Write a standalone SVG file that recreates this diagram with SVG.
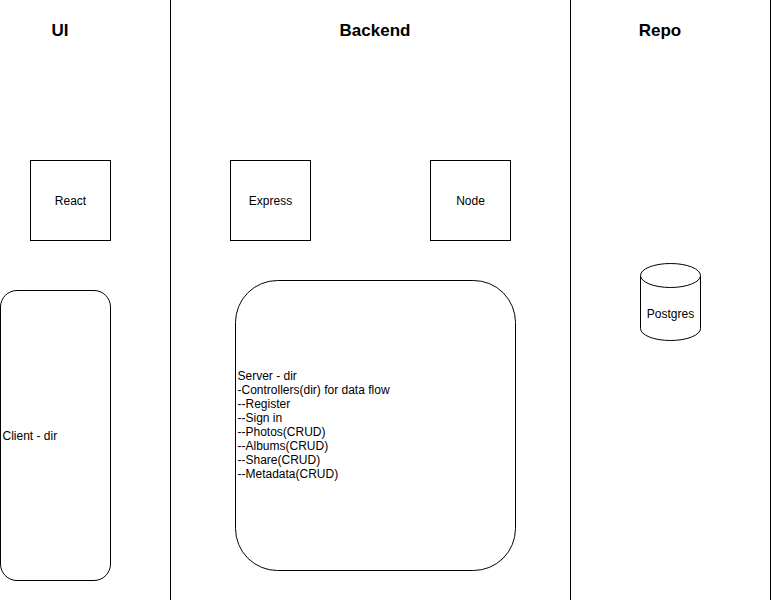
<svg xmlns="http://www.w3.org/2000/svg" width="772" height="602" viewBox="0 0 772 602">
<style>
.shape{fill:#fff;stroke:#000;stroke-width:1}
.lane{stroke:#000;stroke-width:1;fill:none}
.t{font-family:"Liberation Sans",Arial,sans-serif;font-size:12px;fill:#000}
.h{font-family:"Liberation Sans",Arial,sans-serif;font-size:17px;font-weight:bold;fill:#000;text-anchor:middle}
.c{text-anchor:middle}
</style>
<rect width="772" height="602" fill="#fff"/>
<g id="lanes">
<line class="lane" x1="170.5" y1="0" x2="170.5" y2="600"/>
<line class="lane" x1="570.5" y1="0" x2="570.5" y2="600"/>
<line class="lane" x1="770.5" y1="0" x2="770.5" y2="600"/>
<text class="h" x="60" y="36">UI</text>
<text class="h" x="375" y="36">Backend</text>
<text class="h" x="660" y="36">Repo</text>
</g>
<g id="connectors"></g>
<g id="react">
<rect class="shape" x="30.5" y="160.5" width="80" height="80"/>
<text class="t c" x="70.5" y="205">React</text>
</g>
<g id="express">
<rect class="shape" x="230.5" y="160.5" width="80" height="80"/>
<text class="t c" x="270.5" y="205">Express</text>
</g>
<g id="node">
<rect class="shape" x="430.5" y="160.5" width="80" height="80"/>
<text class="t c" x="470.5" y="205">Node</text>
</g>
<g id="client">
<rect class="shape" x="0.5" y="290.5" width="110" height="290" rx="16.5" ry="16.5"/>
<text class="t" x="2.5" y="440">Client - dir</text>
</g>
<g id="server">
<rect class="shape" x="235.5" y="280.5" width="280" height="290" rx="42" ry="42"/>
<text class="t" x="237.5" y="380">Server - dir</text>
<text class="t" x="237.5" y="394">-Controllers(dir) for data flow</text>
<text class="t" x="237.5" y="408">--Register</text>
<text class="t" x="237.5" y="422">--Sign in</text>
<text class="t" x="237.5" y="436">--Photos(CRUD)</text>
<text class="t" x="237.5" y="450">--Albums(CRUD)</text>
<text class="t" x="237.5" y="464">--Share(CRUD)</text>
<text class="t" x="237.5" y="478">--Metadata(CRUD)</text>
</g>
<g id="postgres">
<path class="shape" d="M640.5,275.5 A30,12 0 0 1 700.5,275.5 L700.5,328.5 A30,12 0 0 1 640.5,328.5 Z"/>
<path class="shape" fill="none" d="M640.5,275.5 A30,12 0 0 0 700.5,275.5"/>
<text class="t c" x="670.5" y="318">Postgres</text>
</g>
</svg>
